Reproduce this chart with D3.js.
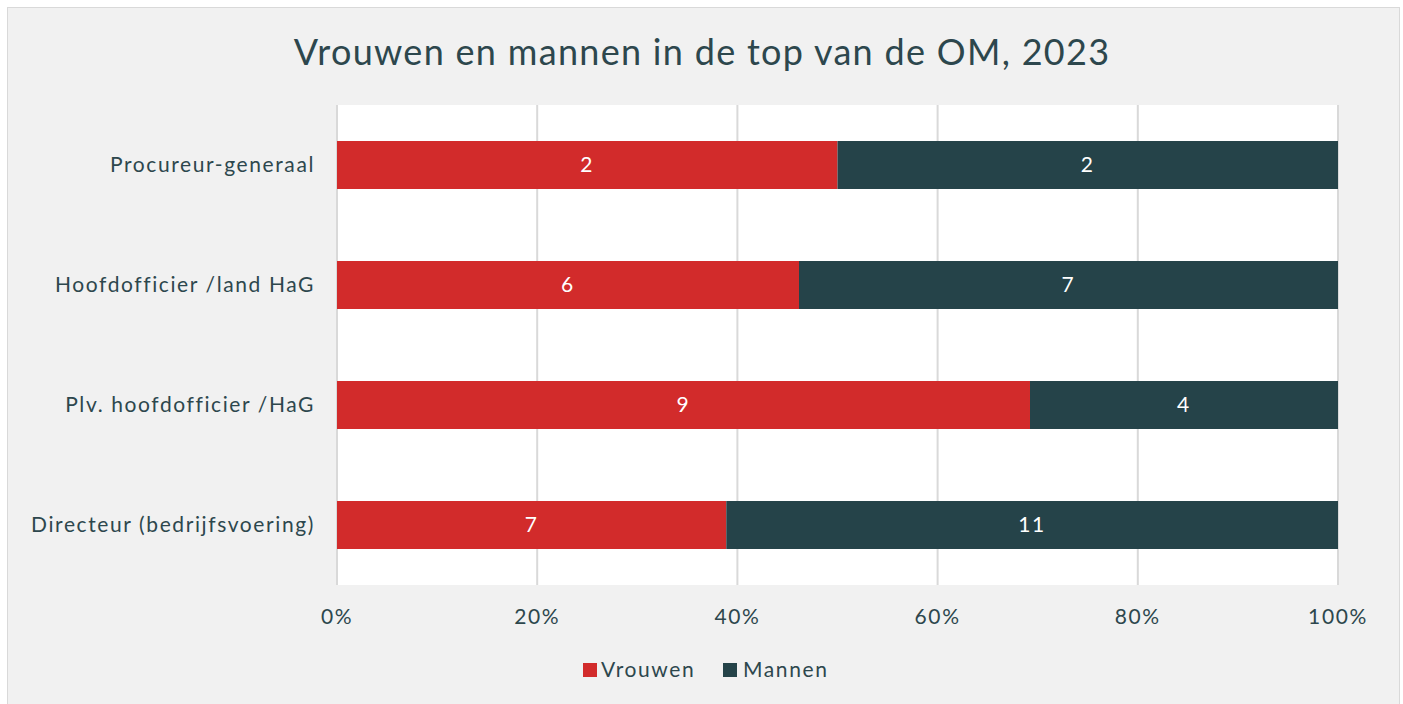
<!DOCTYPE html>
<html>
<head>
<meta charset="utf-8">
<script src="https://cdn.jsdelivr.net/npm/d3@7"></script>
<style>
  body { margin: 0; background: #fff; }
  text { font-family: Lato, "Open Sans", sans-serif; fill: #2d474d; letter-spacing: 1.6px; }
</style>
</head>
<body>
<svg id="chart" width="1403" height="704"></svg>
<script>
var categories = ['Procureur-generaal', 'Hoofdofficier /land HaG', 'Plv. hoofdofficier /HaG', 'Directeur (bedrijfsvoering)'];
var vrouwen = [2, 6, 9, 7];
var mannen = [2, 7, 4, 11];
var series = ['Vrouwen', 'Mannen'];
var colors = ['#d22b2b', '#254349'];
var tickValues = [0, 0.2, 0.4, 0.6, 0.8, 1];

var svg = d3.select('#chart');

// frame
svg.append('rect')
    .attr('x', 7.5).attr('y', 7.5)
    .attr('width', 1392).attr('height', 720)
    .attr('fill', '#f1f1f1')
    .attr('stroke', '#d9d9d9');

svg.append('text')
    .attr('x', 702).attr('y', 65)
    .attr('text-anchor', 'middle')
    .style('font-size', '36px')
    .style('letter-spacing', '1.3px')
    .text('Vrouwen en mannen in de top van de OM, 2023');

var margin = {left: 337, right: 1338, top: 105, bottom: 585};

var x = d3.scaleLinear().domain([0, 1]).range([margin.left, margin.right]);
var y = d3.scaleBand().domain(categories).range([margin.top, margin.bottom]).paddingInner(0.6).paddingOuter(0.3);

svg.append('rect')
    .attr('x', margin.left).attr('y', margin.top)
    .attr('width', margin.right - margin.left)
    .attr('height', margin.bottom - margin.top)
    .attr('fill', '#fff');

svg.selectAll('.grid')
    .data(tickValues)
    .enter().append('line')
    .attr('class', 'grid')
    .attr('x1', function(d){ return x(d); })
    .attr('x2', function(d){ return x(d); })
    .attr('y1', margin.top).attr('y2', margin.bottom)
    .attr('stroke', '#d9d9d9')
    .attr('stroke-width', 2);

var rows = categories.map(function(c, i) {
    var total = vrouwen[i] + mannen[i];
    return {cat: c, vals: [vrouwen[i], mannen[i]], total: total};
});

var segs = [];
rows.forEach(function(r) {
    var acc = 0;
    r.vals.forEach(function(v, j) {
        segs.push({cat: r.cat, v: v, x0: acc / r.total, x1: (acc + v) / r.total, s: j});
        acc += v;
    });
});

svg.selectAll('.bar')
    .data(segs)
    .enter().append('rect')
    .attr('class', 'bar')
    .attr('x', function(d){ return x(d.x0); })
    .attr('width', function(d){ return x(d.x1) - x(d.x0); })
    .attr('y', function(d){ return y(d.cat); })
    .attr('height', y.bandwidth())
    .attr('fill', function(d){ return colors[d.s]; });

svg.selectAll('.lbl')
    .data(segs)
    .enter().append('text')
    .attr('class', 'lbl')
    .attr('x', function(d){ return (x(d.x0) + x(d.x1)) / 2; })
    .attr('y', function(d){ return y(d.cat) + y.bandwidth() / 2; })
    .attr('dy', '0.35em')
    .attr('text-anchor', 'middle')
    .style('font-size', '21px')
    .style('fill', '#fff')
    .text(function(d){ return d.v; });

// category labels
svg.selectAll('.cat')
    .data(categories)
    .enter().append('text')
    .attr('class', 'cat')
    .attr('x', 315)
    .attr('y', function(d){ return y(d) + y.bandwidth() / 2; })
    .attr('dy', '0.35em')
    .attr('text-anchor', 'end')
    .style('font-size', '21px')
    .text(function(d){ return d; });

// x axis labels
svg.selectAll('.tick-lbl')
    .data(tickValues)
    .enter().append('text')
    .attr('class', 'tick-lbl')
    .attr('x', function(d){ return x(d); })
    .attr('y', 624)
    .attr('text-anchor', 'middle')
    .style('font-size', '21px')
    .text(d3.format('.0%'));

// legend
var legendX = [583, 723];
var lg = svg.selectAll('.legend')
    .data(series)
    .enter().append('g')
    .attr('class', 'legend')
    .attr('transform', function(d, i){ return 'translate(' + legendX[i] + ',663)'; });
lg.append('rect')
    .attr('width', 14).attr('height', 14)
    .attr('fill', function(d, i){ return colors[i]; });
lg.append('text')
    .attr('x', function(d, i){ return i === 0 ? 18 : 20; })
    .attr('y', 7)
    .attr('dy', '0.35em')
    .style('font-size', '21px')
    .text(function(d){ return d; });
</script>
</body>
</html>
